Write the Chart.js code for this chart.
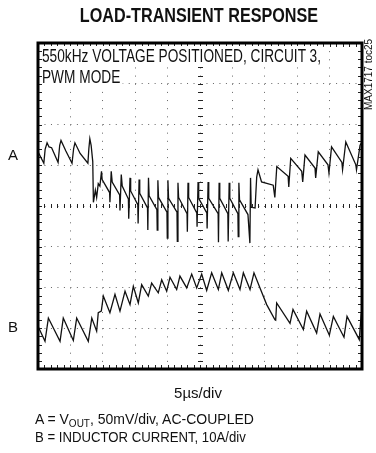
<!DOCTYPE html>
<html>
<head>
<meta charset="utf-8">
<script src="https://cdn.jsdelivr.net/npm/chart.js@4/dist/chart.umd.min.js"></script>
<style>
  body { margin: 0; background: #fff; }
  #wrap { position: relative; width: 376px; height: 453px; font-family: "Liberation Sans", Arial, sans-serif; color: #111; }
  #wrap canvas { position: absolute; left: 0; top: 0; }
  .t { position: absolute; white-space: nowrap; line-height: 1; }
  #title { left: 0; width: 398px; text-align: center; top: 6px; font-size: 19.5px; font-weight: bold; transform: scaleX(0.83); transform-origin: 199px 0; }
  #note { left: 42px; top: 46px; font-size: 18px; line-height: 21px; transform: scaleX(0.76); transform-origin: 0 0; }
  #note span { background: #fff; padding-right: 3px; }
  #lblA { left: 8px; top: 147px; font-size: 15px; }
  #lblB { left: 8px; top: 319px; font-size: 15px; }
  #xdiv { left: 0; width: 396px; text-align: center; top: 385px; font-size: 15px; }
  #legA { left: 35px; top: 412px; font-size: 14px; }
  #legB { left: 35px; top: 430px; font-size: 14px; transform: scaleX(0.94); transform-origin: 0 0; }
  #legA sub { font-size: 10px; vertical-align: -3px; line-height: 0; }
  #toc { left: 364px; top: 110px; font-size: 10px; transform-origin: 0 0; transform: rotate(-90deg); }
</style>
</head>
<body>
<div id="wrap">
  <canvas id="scope" width="376" height="453"></canvas>
  <div class="t" id="title">LOAD-TRANSIENT RESPONSE</div>
  <div class="t" id="note"><span>550kHz VOLTAGE POSITIONED, CIRCUIT 3,</span><br><span>PWM MODE</span></div>
  <div class="t" id="lblA">A</div>
  <div class="t" id="lblB">B</div>
  <div class="t" id="xdiv">5µs/div</div>
  <div class="t" id="legA">A = V<sub>OUT</sub>, 50mV/div, AC-COUPLED</div>
  <div class="t" id="legB">B = INDUCTOR CURRENT, 10A/div</div>
  <div class="t" id="toc">MAX1717 toc25</div>
</div>
<script>
// Trace A: output voltage, AC-coupled (time in us, mV relative to the A marker)
const aTime = [0, 0.9, 1.1, 1.4, 1.7, 2.1, 3.1, 3.35, 3.55, 4.3, 5.25, 5.5, 5.7, 6.5, 7.7, 7.85, 8.0, 8.2, 8.45,
  8.55, 8.85, 9.05, 9.3, 9.55, 9.8, 9.9, 11.05, 11.1, 11.3, 11.45, 12.6, 12.65, 12.85, 13.0, 13.95, 14.0, 14.2, 14.3,
  15.4, 15.45, 15.6, 15.7, 16.9, 16.95, 17.05, 17.15, 18.35, 18.4, 18.5, 18.6, 19.9, 19.95, 20.05, 20.15,
  21.45, 21.5, 21.6, 21.7, 23.0, 23.05, 23.15, 23.25, 24.5, 24.55, 24.7, 24.8, 26.05, 26.1, 26.25, 26.35,
  27.8, 27.85, 27.95, 28.05, 29.3, 29.35, 29.5, 29.6, 30.85, 30.9, 31.0, 31.1, 32.4, 32.7, 32.8, 32.9, 33.5,
  33.75, 33.95, 34.5, 36.3, 36.55, 36.85, 38.6, 38.7, 39.0, 40.7, 40.85, 41.2, 42.75, 42.85, 43.25, 44.75, 44.9,
  45.3, 46.9, 47.0, 47.5, 49.05, 49.15, 49.7, 50];
const aMilliVolt = [4, -10, 7, 15, 10, 9, -9, 12, 18, 5, -10, 8, 15, 2, -10, 8, 20, 12, -8,
  -58, -43, -52, -35, -38, -20, -30, -46, -58, -20, -33, -49, -68, -24, -38, -54, -78, -28, -44,
  -61, -84, -30, -47, -65, -92, -28, -50, -67, -92, -31, -52, -70, -102, -31, -53,
  -70, -106, -34, -52, -72, -94, -34, -52, -71, -88, -33, -53, -71, -90, -33, -53,
  -72, -107, -34, -53, -72, -106, -34, -53, -72, -100, -34, -55, -73, -108, -28, -64, -65,
  -27, -18, -33, -37, -52, -14, -26, -39, -4, -20, -33, 0, -16, -28, 4, -12, -22,
  10, -9, -18, 16, -12, -18, 12, 16];

// Trace B: inductor current (time in us, A relative to the B marker)
const bTime = [0, 1.08, 1.6, 3.4, 3.9, 5.45, 5.97, 7.76, 8.3, 9.05, 9.3, 9.77, 10.08, 11.1, 11.88, 12.65, 13.43,
  14.2, 14.71, 15.48, 16.0, 17.02, 17.54, 18.56, 19.09, 19.86, 20.37, 21.4, 21.9, 22.95, 23.72, 24.49, 25.26,
  26.03, 26.8, 27.83, 28.35, 29.37, 30.14, 31.17, 31.69, 32.72, 33.33, 34.26, 35.29, 36.57, 36.68, 36.83,
  38.89, 39.35, 40.95, 41.46, 43.0, 43.52, 44.96, 45.58, 47.22, 47.69, 49.58, 49.85, 50];
const bAmp = [0.5, -3.2, 2.5, -3.2, 2.5, -3.0, 2.5, -3.2, 2.5, -0.7, 3.8, 4.2, 7.9, 3.8, 8.3, 4.2, 9.1,
  5.8, 10.3, 6.2, 10.7, 7.9, 11.1, 8.7, 11.9, 9.1, 12.5, 9.5, 12.8, 9.9, 13.3, 9.9, 13.3,
  9.3, 13.6, 9.5, 13.6, 9.3, 13.6, 9.5, 13.6, 9.5, 13.6, 9.9, 5.8, 2.1, 2.0, 6.2,
  1.2, 4.6, -0.3, 4.2, -1.2, 3.5, -1.7, 2.9, -2.2, 2.9, -2.8, 2.9, 2.0];

// Screen: 10 x 8 divisions, A marker 1.25 div above centre, B marker 3 div below
const usPerDiv = 5, mVPerDiv = 50, ampPerDiv = 10;
const markerA = 1.25, markerB = -3;

const toPoints = (xs, ys) => xs.map((x, i) => ({ x: x, y: ys[i] }));

// graticule: centre tick marks, edge ticks and the heavy frame
const graticule = {
  id: 'graticule',
  afterDatasetsDraw(chart) {
    const { ctx, chartArea: a, scales } = chart;
    const x = scales.x, g = scales.grid;
    const cy = g.getPixelForValue(0), cx = x.getPixelForValue(25);
    ctx.save();
    ctx.strokeStyle = '#222';
    ctx.lineWidth = 1;
    ctx.beginPath();
    for (let t = 0; t <= 50; t += 1) {
      const px = Math.round(x.getPixelForValue(t)) + 0.5;
      ctx.moveTo(px, cy - 2); ctx.lineTo(px, cy + 2);
      ctx.moveTo(px, a.top); ctx.lineTo(px, a.top + 4);
      ctx.moveTo(px, a.bottom); ctx.lineTo(px, a.bottom - 4);
    }
    for (let d = -20; d <= 20; d += 1) {
      const py = Math.round(g.getPixelForValue(d / 5)) + 0.5;
      ctx.moveTo(cx - 2, py); ctx.lineTo(cx + 3, py);
      ctx.moveTo(a.left, py); ctx.lineTo(a.left + 4, py);
      ctx.moveTo(a.right, py); ctx.lineTo(a.right - 4, py);
    }
    ctx.stroke();
    ctx.strokeStyle = '#000';
    ctx.lineWidth = 3;
    ctx.strokeRect(a.left, a.top, a.right - a.left, a.bottom - a.top);
    ctx.restore();
  }
};

new Chart(document.getElementById('scope'), {
  type: 'line',
  data: {
    datasets: [
      { label: 'A', data: toPoints(aTime, aMilliVolt), yAxisID: 'yA' },
      { label: 'B', data: toPoints(bTime, bAmp), yAxisID: 'yB' }
    ]
  },
  options: {
    responsive: false,
    animation: false,
    layout: { padding: { left: 38, top: 43, right: 14, bottom: 84 } },
    elements: {
      line: { borderColor: '#111', borderWidth: 1.3, tension: 0, fill: false },
      point: { radius: 0 }
    },
    plugins: { legend: { display: false }, tooltip: { enabled: false } },
    scales: {
      x: {
        type: 'linear', min: 0, max: 10 * usPerDiv,
        ticks: { display: false, stepSize: usPerDiv },
        grid: { color: '#666', lineWidth: 1, drawTicks: false },
        border: { display: false, dash: [1, 7.15] }
      },
      grid: {
        type: 'linear', position: 'left', min: -4, max: 4,
        ticks: { display: false, stepSize: 1 },
        grid: { color: '#666', lineWidth: 1, drawTicks: false },
        border: { display: false, dash: [1, 5.48] }
      },
      yA: {
        display: false,
        min: (-4 - markerA) * mVPerDiv, max: (4 - markerA) * mVPerDiv
      },
      yB: {
        display: false,
        min: (-4 - markerB) * ampPerDiv, max: (4 - markerB) * ampPerDiv
      }
    }
  },
  plugins: [graticule]
});
</script>
</body>
</html>
